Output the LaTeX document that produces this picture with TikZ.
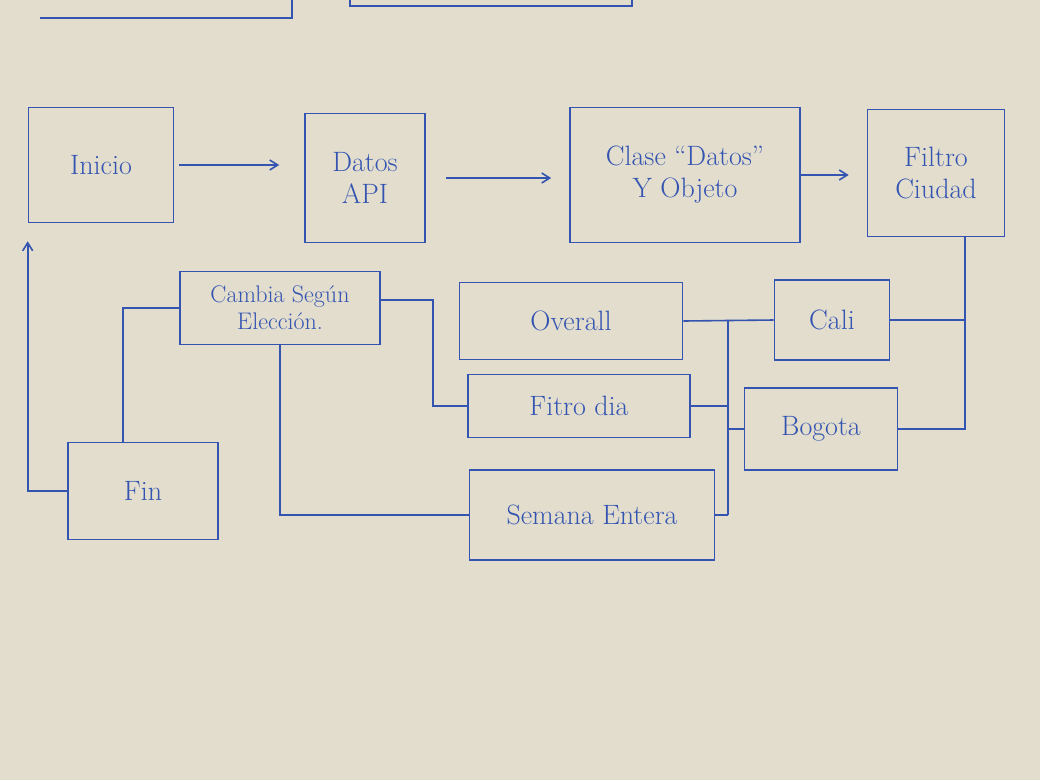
\documentclass[tikz,border=0pt]{standalone}
\usepackage{fontspec}
\setmainfont{Latin Modern Roman}
\usetikzlibrary{calc,arrows.meta}
\definecolor{paper}{RGB}{226,221,204}
\definecolor{ink}{RGB}{52,84,178}
\begin{document}
\begin{tikzpicture}[x=1pt,y=-1pt,
  box/.style={draw=ink,line width=1.6pt,rectangle,inner sep=2pt,align=center,
    text=ink,font=\fontsize{28}{32}\selectfont},
  conn/.style={draw=ink,line width=1.6pt},
  arr/.style={conn,-{Straight Barb[length=8pt,width=10pt]}}]
\fill[paper] (0,0) rectangle (1040,780);
\useasboundingbox (0,0) rectangle (1040,780);
% partial boxes at the top edge
\draw[conn] (40,18) -- (292,18) -- (292,-2);
\draw[conn] (350,-2) -- (350,6) -- (632,6) -- (632,-2);
% nodes
\node[box,minimum width=145,minimum height=115] (inicio) at (101,165) {Inicio};
\node[box,minimum width=120,minimum height=129] (datos) at (365,178) {Datos\\API};
\node[box,minimum width=230,minimum height=135] (clase) at (685,175) {Clase ``Datos''\\Y Objeto};
\node[box,minimum width=137,minimum height=127] (filtro) at (936,173) {Filtro\\Ciudad};
\node[box,minimum width=200,minimum height=73,font=\fontsize{24}{27}\selectfont] (cambia) at (280,308) {Cambia Según\\Elección.};
\node[box,minimum width=223,minimum height=77] (overall) at (571,321) {Overall};
\node[box,minimum width=222,minimum height=63] (fdia) at (579,406) {Fitro dia};
\node[box,minimum width=245,minimum height=90] (semana) at (592,515) {Semana Entera};
\node[box,minimum width=115,minimum height=80] (cali) at (832,320) {Cali};
\node[box,minimum width=153,minimum height=82] (bogota) at (821,429) {Bogota};
\node[box,minimum width=150,minimum height=97] (fin) at (143,491) {Fin};
% top flow arrows
\draw[arr,shorten <=5pt,shorten >=25pt] (inicio.east) -- (inicio.east -| datos.west);
\draw[arr,shorten <=20pt,shorten >=18pt] (datos.east) -- (datos.east -| clase.west);
\draw[arr,shorten >=18pt] (clase.east) -- (clase.east -| filtro.west);
% city filter branches
\coordinate (fc) at ($(filtro.south)+(29,0)$);
\draw[conn] (fc) |- (bogota.east);
\draw[conn] (cali.east) -- (cali.east -| fc);
% bus joining the three options to the cities
\coordinate (busT) at (728,321);
\coordinate (busB) at (728,515);
\draw[conn] (overall.east) -- (cali.west);
\draw[conn] (busT) -- (busB);
\draw[conn] (fdia.east) -- (fdia.east -| busT);
\draw[conn] (bogota.west) -- (bogota.west -| busT);
\draw[conn] (semana.east) -- (busB);
% choice connections
\draw[conn] ($(cambia.east)+(0,-8)$) -- ++(52,0) |- (fdia.west);
\draw[conn] (cambia.south) |- (semana.west);
\draw[conn] ($(fin.north)+(-20,0)$) |- (cambia.west);
% back to start
\draw[arr,shorten >=18pt] (fin.west) -| (inicio.south west);
\end{tikzpicture}
\end{document}
